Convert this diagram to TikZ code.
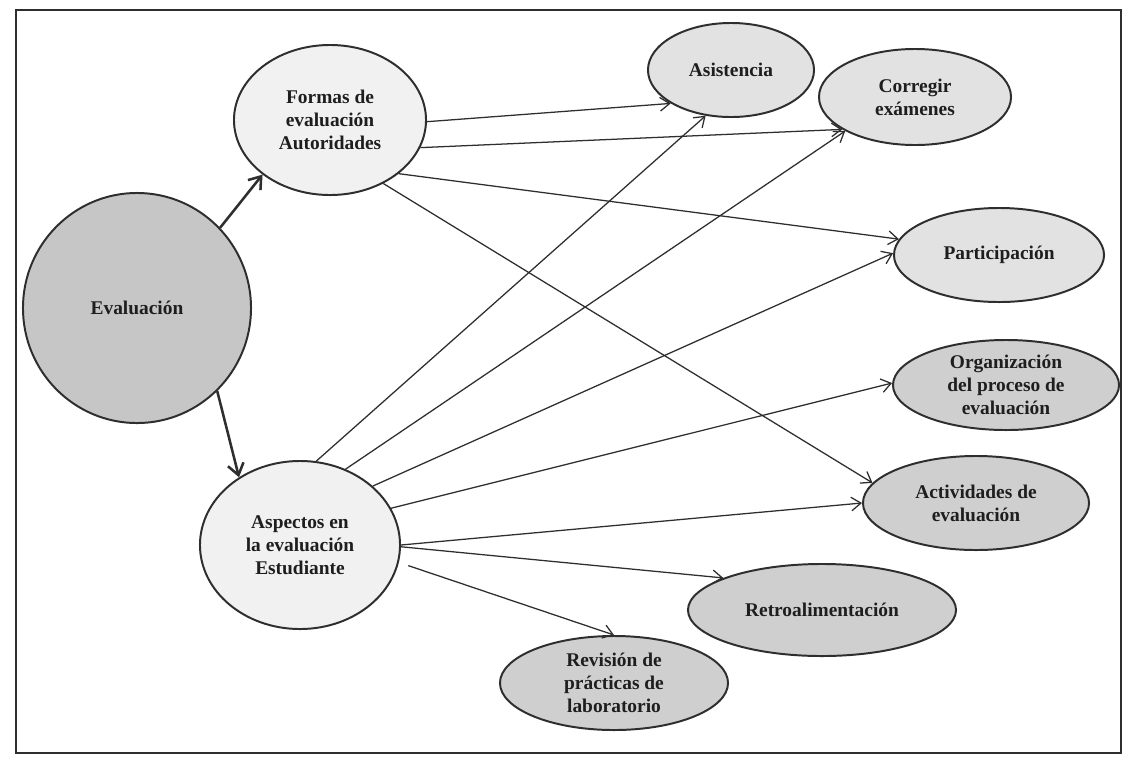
\documentclass[tikz,border=0pt]{standalone}
\usepackage{fontspec}
\setmainfont{Liberation Serif}
\usetikzlibrary{shapes.geometric,arrows.meta}
\definecolor{edgec}{HTML}{2E2E2E}
\definecolor{txtc}{HTML}{1E1E1E}
\definecolor{fillmain}{HTML}{C6C6C6}
\definecolor{fillwhite}{HTML}{F1F1F1}
\definecolor{filllight}{HTML}{E2E2E2}
\definecolor{fillmid}{HTML}{CFCFCF}
\begin{document}
\begin{tikzpicture}[x=0.025cm,y=-0.025cm,
  lbl/.style={font=\bfseries\fontsize{13.8}{16.3}\selectfont, text=txtc, align=center},
  bub/.style={ellipse, draw=edgec, line width=1.4pt, inner sep=0pt, lbl},
  conn/.style={draw=edgec, line width=0.9pt, -{Straight Barb[length=2.4mm,width=3.4mm]}},
  thickconn/.style={draw=edgec, line width=1.8pt, -{Straight Barb[length=2.8mm,width=4mm]}}
]
\useasboundingbox[fill=white] (0,0) rectangle (1123,758);
\draw[line width=1.4pt, draw=edgec] (16,10) rectangle (1121,753);

\node[bub, fill=fillmain, minimum width=5.7cm, minimum height=5.75cm] (eval) at (137,308) {Evaluación};
\node[bub, fill=fillwhite, minimum width=4.8cm, minimum height=3.75cm] (formas) at (330,120) {Formas de\\evaluación\\Autoridades};
\node[bub, fill=fillwhite, minimum width=5.0cm, minimum height=4.2cm] (aspectos) at (300,545) {Aspectos en\\la evaluación\\Estudiante};

\node[bub, fill=filllight, minimum width=4.15cm, minimum height=2.35cm] (asist) at (731,70) {Asistencia};
\node[bub, fill=filllight, minimum width=4.8cm, minimum height=2.4cm] (corregir) at (915,97) {Corregir\\exámenes};
\node[bub, fill=filllight, minimum width=5.25cm, minimum height=2.35cm] (partic) at (999,255) {Participación};

\node[bub, fill=fillmid, minimum width=5.65cm, minimum height=2.25cm] (organ) at (1006,385) {Organización\\del proceso de\\evaluación};
\node[bub, fill=fillmid, minimum width=5.65cm, minimum height=2.35cm] (activ) at (976,503) {Actividades de\\evaluación};
\node[bub, fill=fillmid, minimum width=6.7cm, minimum height=2.3cm] (retro) at (822,610) {Retroalimentación};
\node[bub, fill=fillmid, minimum width=5.7cm, minimum height=2.35cm] (revision) at (614,683) {Revisión de\\prácticas de\\laboratorio};

\draw[thickconn] (eval.44) -- (formas.219);
\draw[thickconn] (eval.-46) -- (aspectos.132);

\draw[conn] (formas.-1) -- (asist.209);
\draw[conn] (formas.-17) -- (corregir.204);
\draw[conn] (formas.-38) -- (partic.171);
\draw[conn] (formas.-50) -- (activ.169);

\draw[conn] (aspectos.79) -- (asist.241);
\draw[conn] (aspectos.59) -- (corregir.206);
\draw[conn] (aspectos.39) -- (partic.179);
\draw[conn] (aspectos.22) -- (organ.179);
\draw[conn] (aspectos.0) -- (activ.180);
\draw[conn] (aspectos.-1) -- (retro.162);
\draw[conn, shorten <=2.5mm] (aspectos.-10) -- (revision.90);
\end{tikzpicture}
\end{document}
